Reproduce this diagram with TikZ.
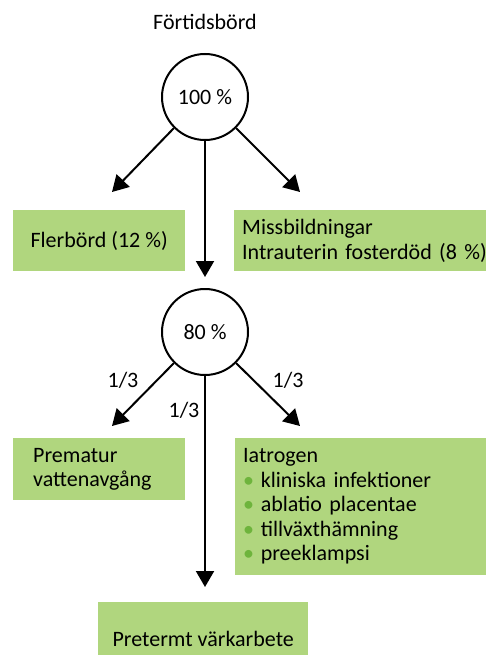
\documentclass[tikz,border=0pt]{standalone}
\usepackage{fontspec}
\setmainfont{Carlito}
\usetikzlibrary{arrows.meta}
\definecolor{boxgreen}{RGB}{176,214,126}
\definecolor{dotgreen}{RGB}{110,180,60}
\tikzset{
  >={Triangle[length=16,width=18]},
  share/.style={draw,circle,line width=2,minimum size=86,inner sep=0},
  greenbox/.style={fill=boxgreen,draw=none,inner sep=0,anchor=north west},
  frac/.style={inner sep=1},
  connect arrow/.style={->,line width=2}
}
\newcommand{\gdot}{{\color{dotgreen}\textbullet}\hspace{0.3em}}

\begin{document}
\begin{tikzpicture}[x=1pt,y=-1pt,font=\fontsize{22}{24.5}\selectfont]
  \useasboundingbox (0,0) rectangle (486,655);

  % Top level
  \node (title) at (205,22) {Förtidsbörd};
  \node[share] (c1) at (205,97) {100 \%};

  % Boxes after first split
  \node[greenbox,minimum width=172,minimum height=61] (fler) at (13,210) {Flerbörd (12 \%)};
  \node[greenbox,minimum height=61,inner xsep=8,text width=236,align=left] (miss) at (234,210)
     {Missbildningar\\\mbox{Intrauterin fosterdöd (8 \%)}};

  % Second circle
  \node[share] (c2) at (205,332) {80 \%};

  % Boxes after second split
  \node[greenbox,minimum height=62,inner xsep=20,text width=132,align=left] (prem) at (13,438)
     {Prematur\\vattenavgång};
  \node[greenbox,minimum height=137,inner xsep=8,text width=235,align=left] (iatr) at (235,438)
     {Iatrogen\\\gdot kliniska infektioner\\\gdot ablatio placentae\\\gdot tillväxthämning\\\gdot preeklampsi};
  \node[greenbox,minimum width=210,text height=44,text depth=9] (pret) at (98,602)
     {Pretermt värkarbete};

  % Arrow ends
  \coordinate (fler tip) at (112,192);
  \coordinate (miss tip) at (300,192);
  \coordinate (prem tip) at (112,426);
  \coordinate (iatr tip) at (300,426);

  % Draw arrows
  \draw[connect arrow] (c1.225) -- (fler tip);
  \draw[connect arrow] (c1.315) -- (miss tip);
  \draw[connect arrow,shorten >=11] (c1) -- (c2);
  \draw[connect arrow] (c2.225) -- (prem tip);
  \draw[connect arrow] (c2.315) -- (iatr tip);
  \draw[connect arrow,shorten >=15] (c2.south) -- (c2.south |- pret.north);

  % Fractions
  \node[frac] (frac left) at (123,380) {1/3};
  \node[frac] (frac mid) at (184,410) {1/3};
  \node[frac] (frac right) at (288,380) {1/3};
\end{tikzpicture}
\end{document}
